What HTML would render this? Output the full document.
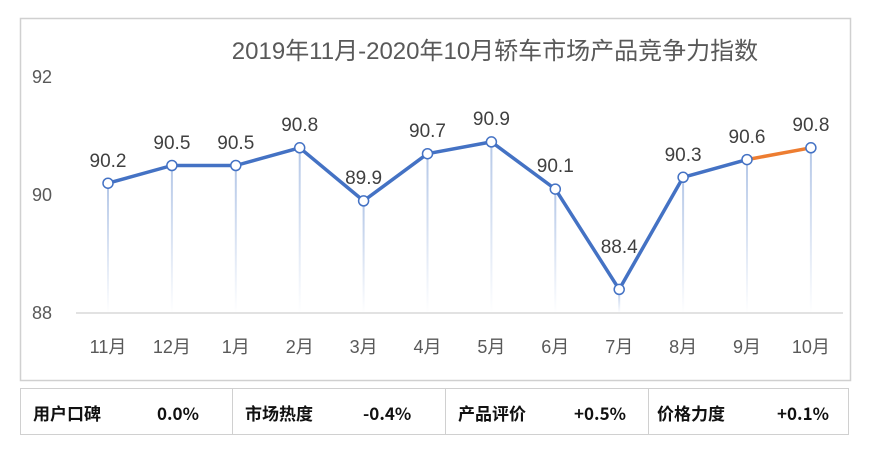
<!DOCTYPE html>
<html><head><meta charset="utf-8"><style>
body{margin:0;width:871px;height:456px;background:#fff;overflow:hidden;font-family:"Liberation Sans","Noto Sans CJK SC",sans-serif}
.tbl{position:absolute;left:20px;top:388px;width:829px;height:47px;border:1px solid #d0d0d0;display:flex;box-sizing:border-box}
.c{flex:none;height:100%;border-right:1px solid #d0d0d0;box-sizing:border-box;font-size:17px;font-weight:bold;color:#111;font-family:"Noto Sans CJK SC",sans-serif;position:relative}
.c span{position:absolute;top:11px}
</style></head><body>
<svg width="871" height="386" style="position:absolute;left:0;top:0" font-family="Liberation Sans, Noto Sans CJK SC, sans-serif">
<defs><linearGradient id="g" x1="0" y1="0" x2="0" y2="1"><stop offset="0" stop-color="#b4c7e7"/><stop offset="1" stop-color="#b4c7e7" stop-opacity="0"/></linearGradient></defs>
<rect x="20.5" y="18.5" width="830" height="362" fill="#fff" stroke="#d0d0d0" stroke-width="1.5"/>
<text x="495" y="59" font-size="24" fill="#595959" text-anchor="middle">2019年11月-2020年10月轿车市场产品竞争力指数</text>
<g font-size="18" fill="#595959" text-anchor="end"><text x="52" y="83">92</text><text x="52" y="201">90</text><text x="52" y="319">88</text></g>
<line x1="76" y1="313" x2="843" y2="313" stroke="#d9d9d9" stroke-width="1.5"/>
<g fill="url(#g)">
<rect x="107" y="183.2" width="2" height="129.8"/>
<rect x="170.9" y="165.5" width="2" height="147.5"/>
<rect x="234.8" y="165.5" width="2" height="147.5"/>
<rect x="298.7" y="147.8" width="2" height="165.2"/>
<rect x="362.6" y="200.9" width="2" height="112.1"/>
<rect x="426.5" y="153.7" width="2" height="159.3"/>
<rect x="490.4" y="141.9" width="2" height="171.1"/>
<rect x="554.3" y="189.1" width="2" height="123.9"/>
<rect x="618.2" y="289.4" width="2" height="23.6"/>
<rect x="682.1" y="177.3" width="2" height="135.7"/>
<rect x="746" y="159.6" width="2" height="153.4"/>
<rect x="809.9" y="147.8" width="2" height="165.2"/>
</g>
<polyline points="108,183.2 171.9,165.5 235.8,165.5 299.7,147.8 363.6,200.9 427.5,153.7 491.4,141.9 555.3,189.1 619.2,289.4 683.1,177.3 747,159.6" fill="none" stroke="#4472c4" stroke-width="3.5" stroke-linejoin="round"/>
<line x1="747" y1="159.6" x2="810.9" y2="147.8" stroke="#ed7d31" stroke-width="3.5"/>
<g fill="#fff" stroke="#4472c4" stroke-width="1.5">
<circle cx="108" cy="183.2" r="5"/><circle cx="171.9" cy="165.5" r="5"/><circle cx="235.8" cy="165.5" r="5"/><circle cx="299.7" cy="147.8" r="5"/><circle cx="363.6" cy="200.9" r="5"/><circle cx="427.5" cy="153.7" r="5"/><circle cx="491.4" cy="141.9" r="5"/><circle cx="555.3" cy="189.1" r="5"/><circle cx="619.2" cy="289.4" r="5"/><circle cx="683.1" cy="177.3" r="5"/><circle cx="747" cy="159.6" r="5"/><circle cx="810.9" cy="147.8" r="5"/>
</g>
<g font-size="19" fill="#404040" text-anchor="middle">
<text x="108" y="167">90.2</text><text x="171.9" y="149">90.5</text><text x="235.8" y="149">90.5</text><text x="299.7" y="131">90.8</text><text x="363.6" y="184">89.9</text><text x="427.5" y="137">90.7</text><text x="491.4" y="125">90.9</text><text x="555.3" y="172">90.1</text><text x="619.2" y="253">88.4</text><text x="683.1" y="161">90.3</text><text x="747" y="143">90.6</text><text x="810.9" y="131">90.8</text>
</g>
<g font-size="18" fill="#595959" text-anchor="middle">
<text x="108" y="353">11月</text><text x="171.9" y="353">12月</text><text x="235.8" y="353">1月</text><text x="299.7" y="353">2月</text><text x="363.6" y="353">3月</text><text x="427.5" y="353">4月</text><text x="491.4" y="353">5月</text><text x="555.3" y="353">6月</text><text x="619.2" y="353">7月</text><text x="683.1" y="353">8月</text><text x="747" y="353">9月</text><text x="810.9" y="353">10月</text>
</g>
</svg>
<div class="tbl">
<div class="c" style="width:212px"><span style="left:12px">用户口碑</span><span style="left:136px">0.0%</span></div>
<div class="c" style="width:213px"><span style="left:12px">市场热度</span><span style="left:130px">-0.4%</span></div>
<div class="c" style="width:203px"><span style="left:12px">产品评价</span><span style="left:128px">+0.5%</span></div>
<div class="c" style="width:199px;border-right:none"><span style="left:8px">价格力度</span><span style="left:128px">+0.1%</span></div>
</div>
</body></html>
